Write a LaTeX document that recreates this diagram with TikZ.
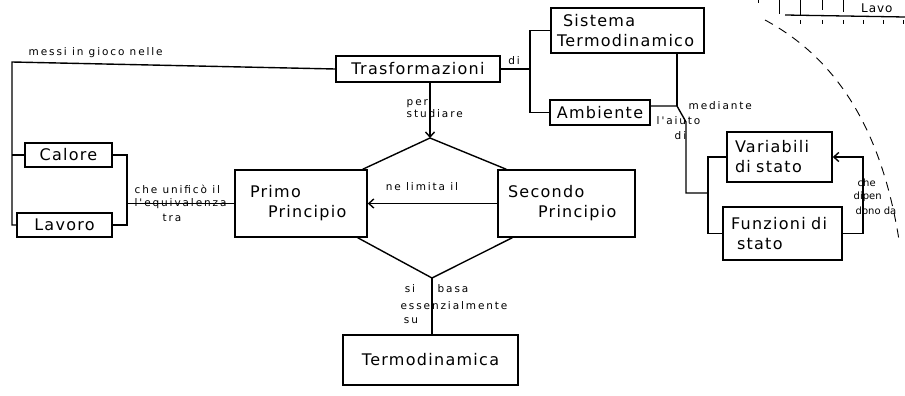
\documentclass[tikz,border=0pt]{standalone}
\usepackage{fontspec}
\setmainfont{DejaVu Sans}
\newfontfamily\handfont[LetterSpace=8]{DejaVu Sans}
\newfontfamily\labelfont[LetterSpace=18]{DejaVu Sans}
\usetikzlibrary{arrows.meta}
\begin{document}
\begin{tikzpicture}[x=1pt,y=-1pt,
  box/.style={draw,line width=1.5pt,inner ysep=0pt,font=\handfont\fontsize{16}{20}\selectfont,align=left},
  lbl/.style={font=\labelfont\fontsize{10.5}{12}\selectfont,inner sep=0.5pt,align=left},
  lblnarrow/.style={font=\fontsize{10}{12}\selectfont,inner sep=0.5pt,align=left},
  conn/.style={line width=1.4pt},
  arr/.style={conn,-{Straight Barb[length=5pt,width=9pt]}}
]
\useasboundingbox (0,0) rectangle (905,396);

% boxes
\node[box,minimum width=164pt,minimum height=26pt,inner xsep=0pt] (trasf) at (418,69) {Trasformazioni};
\node[box,text width=141pt,inner xsep=6pt,minimum height=45pt] (sist) at (627.5,30.5) {\hspace{6pt}Sistema\\Termodinamico};
\node[box,minimum width=100pt,minimum height=25pt,inner xsep=0pt] (amb) at (600,112.5) {Ambiente};
\node[box,text width=89pt,inner xsep=8pt,minimum height=50pt] (var) at (779.5,157) {Variabili\\di stato};
\node[box,text width=103pt,inner xsep=8pt,minimum height=53pt] (funz) at (782.5,233.5) {Funzioni di\\\hspace{6pt}stato};
\node[box,minimum width=87pt,minimum height=24pt,inner xsep=0pt] (calore) at (68.5,155) {Calore};
\node[box,minimum width=95pt,minimum height=24pt,inner xsep=0pt] (lavoro) at (64.5,225) {Lavoro};
\node[box,text width=102pt,inner xsep=15pt,minimum height=67pt] (primo) at (301,203.5) {Primo\\\hspace{18pt}Principio};
\node[box,text width=117pt,inner xsep=10pt,minimum height=67pt] (secondo) at (566.5,203.5) {Secondo\\\hspace{30pt}Principio};
\node[box,minimum width=175pt,minimum height=50pt,inner xsep=0pt] (termo) at (430.5,360) {Termodinamica};

% helper coordinates
\coordinate (L1) at (12,62);
\coordinate (L2) at (12,225);
\coordinate (R) at (127,0);
\coordinate (S) at (530,0);
\coordinate (J) at (677,106);
\coordinate (K) at (686,122);
\coordinate (K2) at (686,193);
\coordinate (B) at (708,0);
\coordinate (D) at (863,0);
\coordinate (top) at (430,138);
\coordinate (bot) at (432,278);

% connectors
\draw[conn] (trasf.west) -- (L1) -- (L2) -- (lavoro.west);
\draw[conn] (calore.west) -- (calore.west -| L1);
\draw[conn] (calore.east) -- (calore.east -| R) -- (lavoro.east -| R) -- (lavoro.east);
\draw[conn] (primo.west -| R) -- (primo.west);
\draw[conn] (trasf.east) -- (trasf.east -| S);
\draw[conn] (sist.west) -- (sist.west -| S) -- (amb.west -| S) -- (amb.west);
\draw[conn] (sist.south -| J) -- (J);
\draw[conn] (amb.east |- J) -- (J) -- (K) -- (K2) -- (K2 -| B);
\draw[conn] (var.west) -- (var.west -| B) -- (funz.west -| B) -- (funz.west);
\draw[arr] (funz.east) -- (funz.east -| D) -- (var.east -| D) -- (var.east);
\draw[arr] (secondo.west) -- (primo.east);
\draw[conn] ([xshift=-5pt]primo.north east) -- (top) -- ([xshift=9pt]secondo.north west);
\draw[conn] ([xshift=-10pt]primo.south east) -- (bot) -- ([xshift=15pt]secondo.south west);
\draw[arr] (trasf.south -| top) -- (top);
\draw[conn] (bot) -- (termo.north -| bot);

% labels
\node[lbl,anchor=west] (lMessi) at (28,53) {messi in gioco nelle};
\node[lbl] (lDi) at (514,61) {di};
\node[lbl,anchor=north west] (lPer) at (406,99) {per\\studiare};
\node[lbl,anchor=west] (lMed) at (688,106) {mediante};
\node[lbl,anchor=west] (lAiu) at (656,121) {l'aiuto};
\node[lbl,anchor=west] (lDi2) at (674,136) {di};
\node[lbl,anchor=west] (lChe) at (134,189) {che unificò il};
\node[lbl,anchor=west] (lEqu) at (134,204) {l'equivalenza};
\node[lbl,anchor=west] (lTra) at (162,218) {tra};
\node[lbl] (lLim) at (422,187) {ne limita il};
\node[lblnarrow,anchor=west] (lDip1) at (857,183) {che};
\node[lblnarrow,anchor=west] (lDip2) at (853,197) {dipen};
\node[lblnarrow,anchor=west] (lDip3) at (855,211) {dono da};
\node[lbl] (lSi) at (410,289) {si};
\node[lbl] (lBasa) at (453,289) {basa};
\node[lbl] (lEss) at (454,306) {essenzialmente};
\node[lbl] (lSu) at (411,321) {su};

% fragment of another drawing, top right
\draw[line width=1pt] (758,0) -- (758,3);
\draw[line width=1pt] (779,0) -- (779,14);
\draw[line width=1pt] (800,0) -- (800,15);
\draw[line width=1pt] (822,0) -- (822,10);
\draw[line width=1pt] (843,0) -- (843,12);
\draw[line width=1.3pt] (785,15) -- (905,17);
\foreach \tx in {800,822,843,863,883,903}{\draw[line width=0.8pt] (\tx,20) -- (\tx,24);}
\node[font=\handfont\fontsize{12}{14}\selectfont,anchor=west,inner sep=0pt] (lavo) at (861,8) {Lavo};

% dashed arc
\draw[line width=0.9pt,dash pattern=on 9pt off 7pt] (765,20) .. controls (830,55) and (880,120) .. (899,240);
\end{tikzpicture}
\end{document}
